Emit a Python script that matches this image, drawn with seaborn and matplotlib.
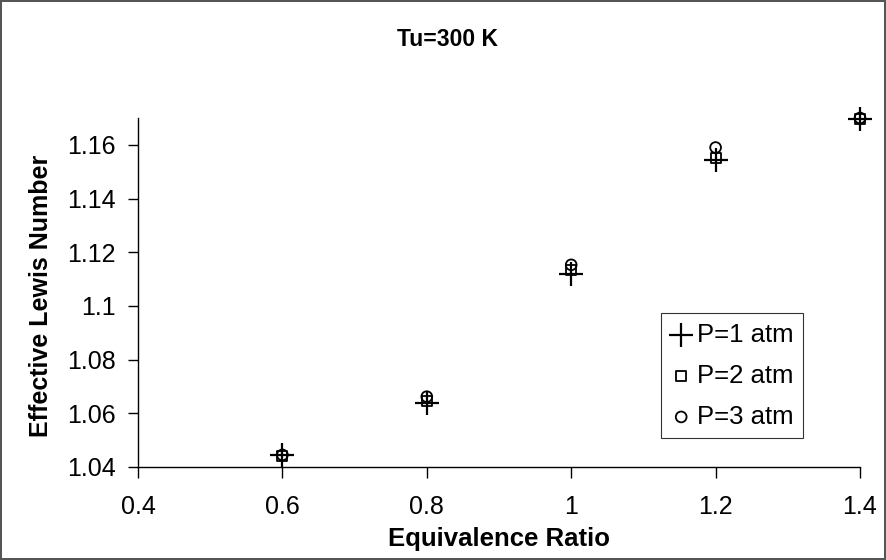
import matplotlib
matplotlib.use("Agg")
import matplotlib.pyplot as plt
import seaborn as sns
import pandas as pd

phi = [0.6, 0.8, 1.0, 1.2, 1.4]
le_p1 = [1.0445, 1.0640, 1.1118, 1.1545, 1.1697]
le_p2 = [1.0440, 1.0647, 1.1134, 1.1550, 1.1697]
le_p3 = [1.0445, 1.0662, 1.1153, 1.1590, 1.1700]
series_labels = ["P=1 atm", "P=2 atm", "P=3 atm"]
x_ticks = [0.4, 0.6, 0.8, 1.0, 1.2, 1.4]
x_ticklabels = ["0.4", "0.6", "0.8", "1", "1.2", "1.4"]
y_ticks = [1.04, 1.06, 1.08, 1.10, 1.12, 1.14, 1.16]
y_ticklabels = ["1.04", "1.06", "1.08", "1.1", "1.12", "1.14", "1.16"]

sns.set_style("white")
plt.rcParams["font.family"] = ["Liberation Sans", "DejaVu Sans"]
plt.rcParams.update({"text.color": "black", "axes.labelcolor": "black",
                     "xtick.color": "black", "ytick.color": "black"})

fig = plt.figure(figsize=(8.86, 5.6), dpi=100)
fig.patch.set_edgecolor("#555555")
fig.patch.set_linewidth(1.5)
ax = fig.add_axes([138 / 886, 1 - 467 / 560, (860 - 138) / 886, (467 - 118) / 560])

frames = []
for lab, vals in zip(series_labels, [le_p1, le_p2, le_p3]):
    frames.append(pd.DataFrame({"phi": phi, "Le": vals, "P": lab}))
df = pd.concat(frames, ignore_index=True)

styles = {
    "P=1 atm": dict(marker="+", s=280, linewidth=1.6),
    "P=2 atm": dict(marker="s", s=50, linewidth=1.3),
    "P=3 atm": dict(marker="o", s=60, linewidth=1.3),
}
for lab in series_labels:
    sub = df[df["P"] == lab]
    st = styles[lab]
    if st["marker"] == "+":
        sns.scatterplot(data=sub, x="phi", y="Le", ax=ax, label=lab, color="black",
                        marker=st["marker"], s=st["s"], linewidth=st["linewidth"],
                        zorder=3, clip_on=False)
    else:
        sns.scatterplot(data=sub, x="phi", y="Le", ax=ax, label=lab, color="black",
                        facecolor="none", edgecolor="black",
                        marker=st["marker"], s=st["s"], linewidth=st["linewidth"],
                        zorder=3, clip_on=False)

ax.set_xlim(0.4, 1.4)
ax.set_ylim(1.04, 1.17)
ax.set_xticks(x_ticks)
ax.set_xticklabels(x_ticklabels)
ax.set_yticks(y_ticks)
ax.set_yticklabels(y_ticklabels)
ax.tick_params(axis="both", which="major", labelsize=18, length=7, width=1,
               direction="out", color="black", pad=9, left=True, bottom=True)
ax.tick_params(axis="x", pad=12, length=8)
for sp in ["top", "right"]:
    ax.spines[sp].set_visible(False)
for sp in ["left", "bottom"]:
    ax.spines[sp].set_color("black")
    ax.spines[sp].set_linewidth(1.0)

ax.set_xlabel("Equivalence Ratio", fontsize=18.5, fontweight="bold", labelpad=6)
ax.set_ylabel("Effective Lewis Number", fontsize=18, fontweight="bold")
ax.yaxis.set_label_coords(-0.118, 0.49)
fig.text(0.505, 1 - 40 / 560, "Tu=300 K", ha="center", va="center", fontsize=16.5,
         fontweight="bold")

leg = ax.legend(loc="upper right", bbox_to_anchor=((803 - 138) / 722, 1 - (313 - 118) / 349),
                frameon=True, fancybox=False, edgecolor="black", fontsize=18.5,
                handlelength=0.8, handletextpad=0.2, borderpad=0.38, labelspacing=0.66,
                borderaxespad=0)
leg.get_frame().set_linewidth(0.8)

fig.savefig("out.png", dpi=100)
